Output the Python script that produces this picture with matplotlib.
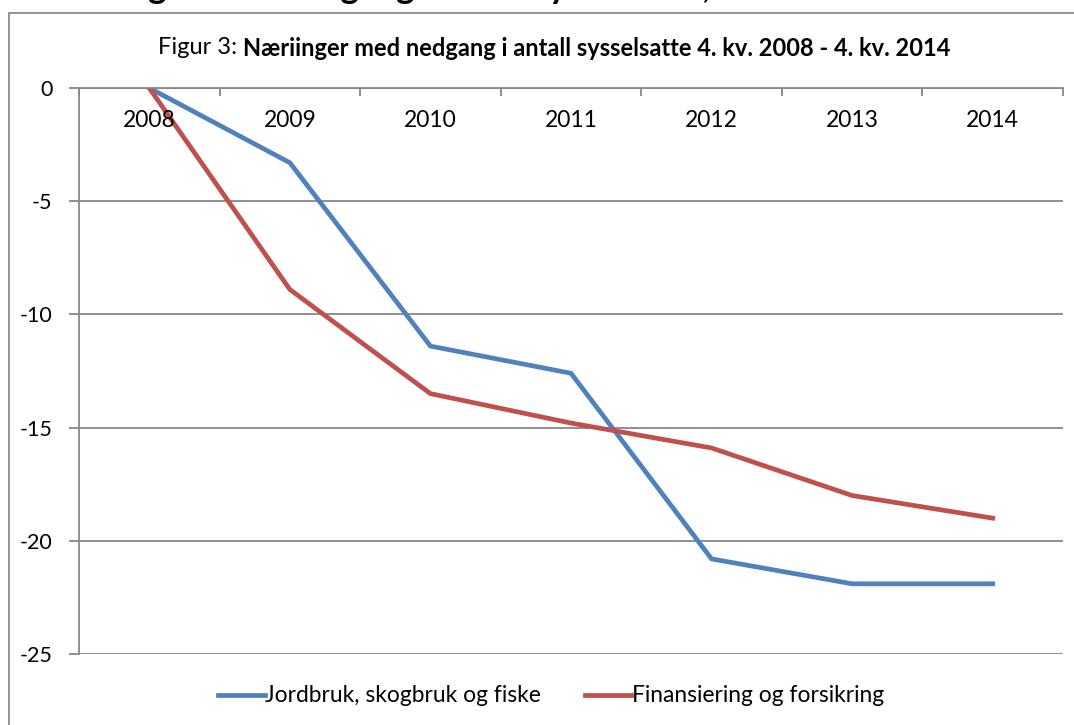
import matplotlib
matplotlib.use("Agg")
import matplotlib.pyplot as plt
from matplotlib.patches import Rectangle
import numpy as np

plt.rcParams['font.family'] = ['Lato', 'DejaVu Sans']
plt.rcParams['axes.unicode_minus'] = False

# Data
years = ["2008", "2009", "2010", "2011", "2012", "2013", "2014"]
jordbruk = [0, -3.3, -11.4, -12.6, -20.8, -21.9, -21.9]
finans = [0, -8.9, -13.5, -14.8, -15.9, -18.0, -19.0]
series_names = ["Jordbruk, skogbruk og fiske", "Finansiering og forsikring"]
yticks = [0, -5, -10, -15, -20, -25]

BLUE = "#4F81BD"
RED = "#C0504D"
GRID = "#878787"

W, H = 1074, 725
fig = plt.figure(figsize=(W / 100, H / 100), dpi=100)

# outer chart frame (cut off at right and bottom in the reference)
fig.patches.append(Rectangle((9 / W, -0.2), 1.2, (H - 13) / H + 0.2,
                             transform=fig.transFigure, fill=False,
                             edgecolor="#8c8c8c", lw=1.3))

# heading of the document, only the descenders show at the top
fig.text(52 / W, 1 + 2 / H, "Næringer med nedgang i antall sysselsatte, 2008 - 2014",
         fontsize=25, fontweight="bold", va="baseline", ha="left")

ax = fig.add_axes([79 / W, 1 - 654 / H, 984 / W, 566 / H])
x = np.arange(len(years))
ax.plot(x, jordbruk, color=BLUE, lw=3.4, label=series_names[0], solid_joinstyle="miter")
ax.plot(x, finans, color=RED, lw=3.4, label=series_names[1], solid_joinstyle="miter")

ax.set_xlim(-0.5, len(years) - 0.5)
ax.set_ylim(-25, 0)
ax.set_yticks(yticks)
ax.set_yticklabels([str(v) for v in yticks])
ax.yaxis.grid(True, color=GRID, lw=1.3)
ax.set_axisbelow(True)

for s in ["right", "bottom"]:
    ax.spines[s].set_visible(False)
for s in ["left", "top"]:
    ax.spines[s].set_color(GRID)
    ax.spines[s].set_linewidth(1.3)

ax.tick_params(axis="y", length=7, width=1.3, color=GRID, pad=12, labelsize=15.5)
# category boundary ticks pointing down from the zero line
ax.set_xticks(np.arange(-0.5, len(years)))
ax.set_xticklabels([])
ax.tick_params(axis="x", top=True, bottom=False, direction="in", length=6,
               width=1.3, color=GRID)
for i, yr in enumerate(years):
    ax.text(i, -1.45, yr, ha="center", va="center", fontsize=16.5)

# title: regular prefix + bold rest, centred together
t1 = fig.text(0, 1 - 48 / H, "Figur 3: ", fontsize=17, va="center")
t2 = fig.text(0, 1 - 48 / H,
              "Næriinger med nedgang i antall sysselsatte 4. kv. 2008 - 4. kv. 2014",
              fontsize=17, fontweight="bold", va="center")
r = fig.canvas.get_renderer()
w1 = t1.get_window_extent(r).width
w2 = t2.get_window_extent(r).width
x0 = 554 - (w1 + w2) / 2
t1.set_x(x0 / W)
t2.set_x((x0 + w1) / W)

fig.legend(loc="center", bbox_to_anchor=(551 / W, 1 - 696 / H), ncol=2,
           frameon=False, fontsize=16.4, handlelength=2.05, handletextpad=0.02,
           columnspacing=1.9)

fig.savefig("out.png", dpi=100)
